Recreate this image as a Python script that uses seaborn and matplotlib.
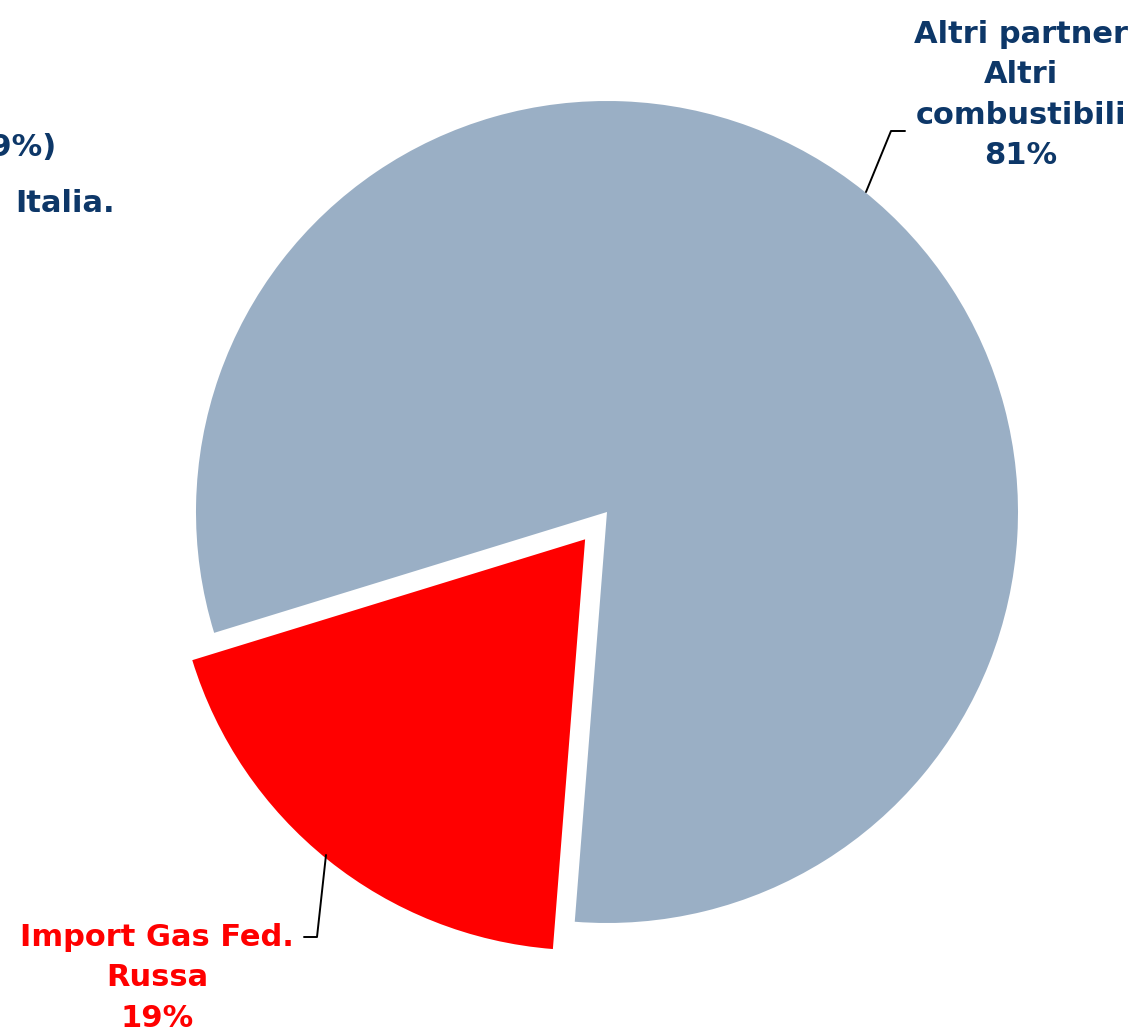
import matplotlib
matplotlib.use("Agg")
import matplotlib.pyplot as plt
import seaborn as sns

sns.set_theme(style="white")
plt.rcParams['font.family'] = ['DejaVu Sans']

# data
categories = ["Altri partner\nAltri\ncombustibili", "Import Gas Fed.\nRussa"]
values = [81, 19]
colors = ["#9AAFC5", "#FF0000"]
label_colors = ["#0D3768", "#FF0000"]
title_lines = ["(19%)", "Italia."]

W, H = 1132, 1036
fig = plt.figure(figsize=(W / 100, H / 100), dpi=100)
ax = fig.add_axes([0, 0, 1, 1])

cx, cy, R = 607, H - 512, 411
wedges, _ = ax.pie(values, colors=colors, startangle=265.5, counterclock=True,
                   explode=[0, 35], radius=R, center=(cx, cy),
                   wedgeprops=dict(linewidth=0))
ax.set_xlim(0, W)
ax.set_ylim(0, H)
ax.set_aspect('auto')
ax.axis('off')

fs = 22
lab1 = f"{categories[0]}\n{values[0]}%"
lab2 = f"{categories[1]}\n{values[1]}%"
ax.text(1021, H - 95, lab1, ha='center', va='center', fontsize=fs,
        fontweight='bold', color=label_colors[0], linespacing=1.48)
ax.text(157, H - 978, lab2, ha='center', va='center', fontsize=fs,
        fontweight='bold', color=label_colors[1], linespacing=1.48)

# leader lines
ax.plot([866, 891, 905], [H - 192, H - 131, H - 131], color='black', lw=1.4)
ax.plot([326, 317, 304], [H - 855, H - 937, H - 937], color='black', lw=1.4)

# partially visible title text
ax.text(57, H - 148, title_lines[0], ha='right', va='center', fontsize=fs,
        fontweight='bold', color=label_colors[0])
ax.text(15, H - 203, title_lines[1], ha='left', va='center', fontsize=fs,
        fontweight='bold', color=label_colors[0])

fig.savefig("out.png", dpi=100)
